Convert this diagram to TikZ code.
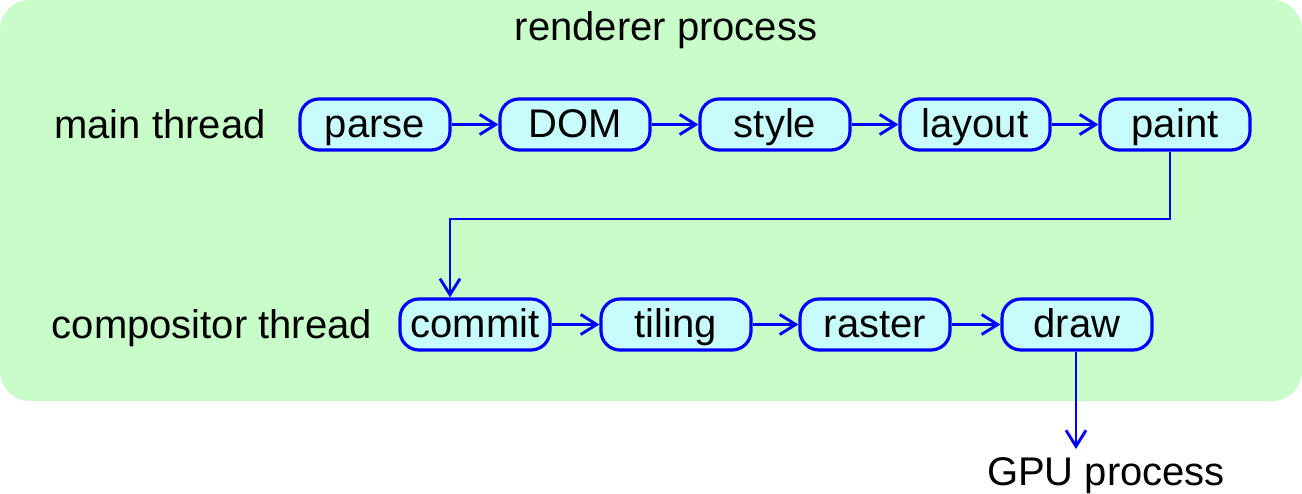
\documentclass[tikz,border=0pt]{standalone}
\usepackage{fontspec}
\setmainfont{Liberation Sans}
\usetikzlibrary{arrows.meta}
\definecolor{bggreen}{RGB}{200,252,200}
\definecolor{boxcyan}{RGB}{200,252,252}
\definecolor{lineblue}{RGB}{0,0,255}
\begin{document}
\begin{tikzpicture}[x=1pt,y=-1pt,
  every node/.style={font=\fontsize{40}{48}\selectfont},
  stage/.style={draw=lineblue, line width=3.2pt, fill=boxcyan, rounded corners=19pt,
    minimum width=150pt, minimum height=51pt, inner sep=0pt,
    text height=26pt, text depth=0pt},
  lbl/.style={anchor=base, inner sep=0pt},
  arr/.style={draw=lineblue, line width=2.9pt,
    -{Straight Barb[length=16pt,width=20pt,line width=2.9pt]}}]
\useasboundingbox (0,0) rectangle (1302,494);
\fill[bggreen, rounded corners=30pt] (0,0) rectangle (1302,401);
\node[lbl] (renderer) at (666,41) {renderer process};
\node[lbl] (mainlbl) at (160,139) {main thread};
\node[lbl] (complbl) at (212,339) {compositor thread};
\node[stage] (parse)  at (375,124.5) {parse};
\node[stage] (dom)    at (575,124.5) {DOM};
\node[stage] (style)  at (775,124.5) {style};
\node[stage] (layout) at (975,124.5) {layout};
\node[stage] (paint)  at (1175,124.5) {paint};
\node[stage] (commit) at (475,324.5) {commit};
\node[stage] (tiling) at (676,324.5) {tiling};
\node[stage] (raster) at (875,324.5) {raster};
\node[stage] (drawn)  at (1077,324.5) {draw};
\node[lbl] (gpu) at (1106,485) {GPU process};
\coordinate (turn) at (450,219);
\coordinate (gputop) at (1076,449);
\draw[arr] (parse) -- (dom);
\draw[arr] (dom) -- (style);
\draw[arr] (style) -- (layout);
\draw[arr] (layout) -- (paint);
\draw[arr] ([xshift=-5pt]paint.south) |- (turn) -- ([xshift=-25pt]commit.north);
\draw[arr] (commit) -- (tiling);
\draw[arr] (tiling) -- (raster);
\draw[arr] (raster) -- (drawn);
\draw[arr] ([xshift=-1pt]drawn.south) -- (gputop);
\end{tikzpicture}
\end{document}
